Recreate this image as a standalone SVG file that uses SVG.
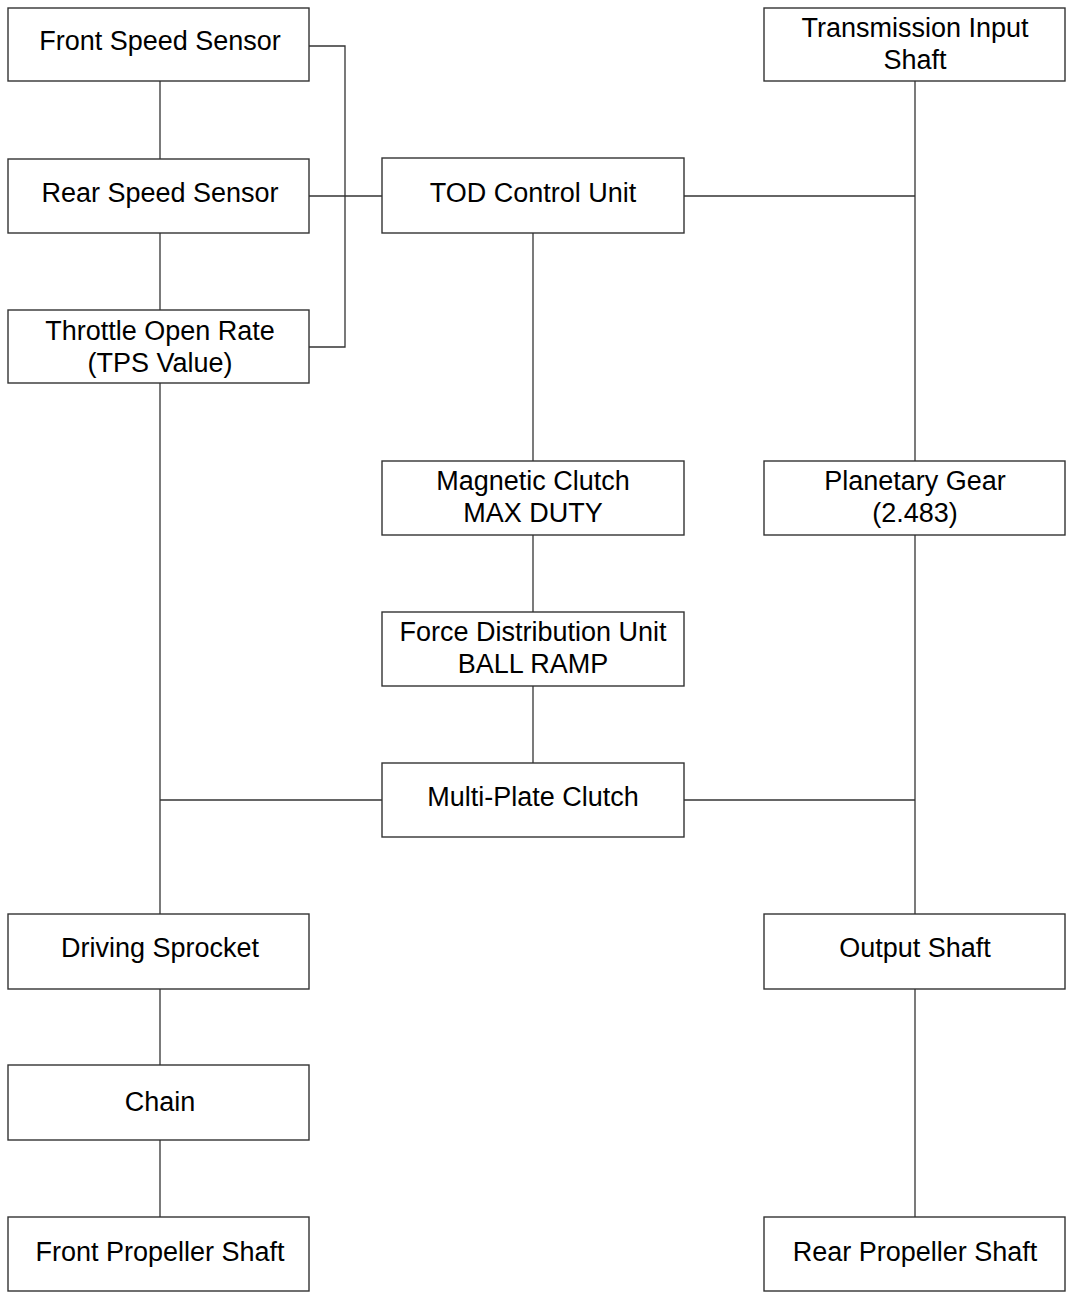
<svg xmlns="http://www.w3.org/2000/svg" width="1070" height="1293" viewBox="0 0 1070 1293">
<style>
.box{fill:#fff;stroke:#333;stroke-width:1.4}
.lbl{font-family:"Liberation Sans",Arial,sans-serif;font-size:27px;fill:#000;text-anchor:middle}
.ln{fill:none;stroke:#333;stroke-width:1.3}
</style>
<rect width="1070" height="1293" fill="#fff"/>
<g id="connectors">
<line class="ln" x1="160" y1="81" x2="160" y2="159"/>
<line class="ln" x1="160" y1="233" x2="160" y2="310"/>
<polyline class="ln" points="309,46 345,46 345,347 309,347"/>
<line class="ln" x1="309" y1="196" x2="382" y2="196"/>
<line class="ln" x1="684" y1="196" x2="915" y2="196"/>
<line class="ln" x1="915" y1="81" x2="915" y2="461"/>
<line class="ln" x1="533" y1="233" x2="533" y2="461"/>
<line class="ln" x1="533" y1="535" x2="533" y2="612"/>
<line class="ln" x1="533" y1="686" x2="533" y2="763"/>
<line class="ln" x1="160" y1="383" x2="160" y2="914"/>
<line class="ln" x1="160" y1="800" x2="382" y2="800"/>
<line class="ln" x1="684" y1="800" x2="915" y2="800"/>
<line class="ln" x1="915" y1="535" x2="915" y2="914"/>
<line class="ln" x1="160" y1="989" x2="160" y2="1065"/>
<line class="ln" x1="160" y1="1140" x2="160" y2="1217"/>
<line class="ln" x1="915" y1="989" x2="915" y2="1217"/>
</g>
<g id="front-speed-sensor"><rect class="box" x="8" y="8" width="301" height="73"/><text class="lbl" x="160" y="50">Front Speed Sensor</text></g>
<g id="rear-speed-sensor"><rect class="box" x="8" y="159" width="301" height="74"/><text class="lbl" x="160" y="202">Rear Speed Sensor</text></g>
<g id="throttle"><rect class="box" x="8" y="310" width="301" height="73"/><text class="lbl" x="160" y="340">Throttle Open Rate</text><text class="lbl" x="160" y="372">(TPS Value)</text></g>
<g id="tod-control-unit"><rect class="box" x="382" y="158" width="302" height="75"/><text class="lbl" x="533" y="202">TOD Control Unit</text></g>
<g id="transmission-input-shaft"><rect class="box" x="764" y="8" width="301" height="73"/><text class="lbl" x="915" y="37">Transmission Input</text><text class="lbl" x="915" y="69">Shaft</text></g>
<g id="magnetic-clutch"><rect class="box" x="382" y="461" width="302" height="74"/><text class="lbl" x="533" y="490">Magnetic Clutch</text><text class="lbl" x="533" y="522">MAX DUTY</text></g>
<g id="planetary-gear"><rect class="box" x="764" y="461" width="301" height="74"/><text class="lbl" x="915" y="490">Planetary Gear</text><text class="lbl" x="915" y="522">(2.483)</text></g>
<g id="force-distribution-unit"><rect class="box" x="382" y="612" width="302" height="74"/><text class="lbl" x="533" y="641">Force Distribution Unit</text><text class="lbl" x="533" y="673">BALL RAMP</text></g>
<g id="multi-plate-clutch"><rect class="box" x="382" y="763" width="302" height="74"/><text class="lbl" x="533" y="806">Multi-Plate Clutch</text></g>
<g id="driving-sprocket"><rect class="box" x="8" y="914" width="301" height="75"/><text class="lbl" x="160" y="957">Driving Sprocket</text></g>
<g id="output-shaft"><rect class="box" x="764" y="914" width="301" height="75"/><text class="lbl" x="915" y="957">Output Shaft</text></g>
<g id="chain"><rect class="box" x="8" y="1065" width="301" height="75"/><text class="lbl" x="160" y="1111">Chain</text></g>
<g id="front-propeller-shaft"><rect class="box" x="8" y="1217" width="301" height="74"/><text class="lbl" x="160" y="1261">Front Propeller Shaft</text></g>
<g id="rear-propeller-shaft"><rect class="box" x="764" y="1217" width="301" height="74"/><text class="lbl" x="915" y="1261">Rear Propeller Shaft</text></g>
</svg>
